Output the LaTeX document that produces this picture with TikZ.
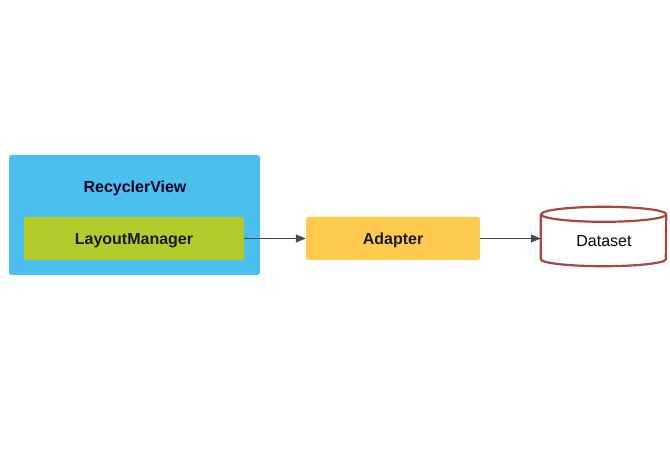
\documentclass[tikz,border=0pt]{standalone}
\usepackage{fontspec}
\setmainfont{Liberation Sans}
\usetikzlibrary{arrows.meta}
\definecolor{rvblue}{HTML}{4BC0EE}
\definecolor{lmgreen}{HTML}{B3CB2B}
\definecolor{adyellow}{HTML}{FFCB4F}
\definecolor{dsred}{HTML}{A8473F}
\definecolor{arrowgrey}{HTML}{4A4A4A}
\tikzset{
  lbl/.style={font=\fontsize{16}{18}\selectfont, text height=0.72em+5pt, text depth=0pt},
  box/.style={rectangle, rounded corners=2.5pt, inner sep=0pt, lbl, font=\bfseries\fontsize{16}{18}\selectfont, text=black!90},
  conn/.style={draw=arrowgrey, line width=1.1pt, -{Triangle[length=10pt,width=8pt]}},
}
\begin{document}
\begin{tikzpicture}[x=1pt,y=1pt]
\useasboundingbox[fill=white] (0,0) rectangle (670,450);
\node[box, fill=rvblue, minimum width=251pt, minimum height=120pt] (rv) at (134.5,235) {};
\node[lbl, font=\bfseries\fontsize{16}{18}\selectfont, text=black!85!blue] (rvlabel) at (135,264) {RecyclerView};
\node[box, fill=lmgreen, minimum width=220pt, minimum height=43pt] (lm) at (134,211.5) {LayoutManager};
\node[box, fill=adyellow, minimum width=174pt, minimum height=43pt] (ad) at (393,211.5) {Adapter};
\node[rectangle, inner sep=0pt, minimum width=125pt, minimum height=59pt] (ds) at (603.5,213.5) {};
\draw[draw=dsred, line width=2.2pt, fill=white]
  ([yshift=-7.5pt]ds.north west) -- ([yshift=7pt]ds.south west)
  arc[start angle=180, end angle=360, x radius=62.5pt, y radius=7pt]
  -- ([yshift=-7.5pt]ds.north east)
  arc[start angle=0, end angle=360, x radius=62.5pt, y radius=7.5pt];
\node[lbl] (dslabel) at (604,210) {Dataset};
\draw[conn] (lm.east) -- (ad.west);
\draw[conn] (ad.east) -- (ad.east -| ds.west);
\end{tikzpicture}
\end{document}
